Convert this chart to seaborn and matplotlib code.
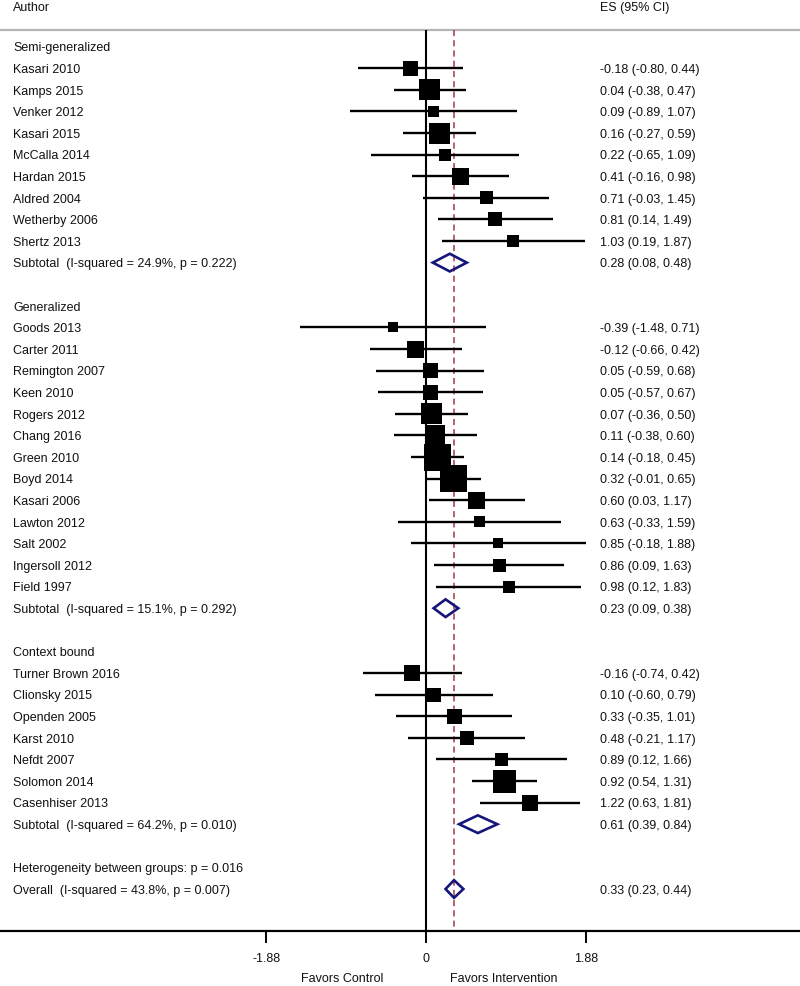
import matplotlib
matplotlib.use("Agg")
import matplotlib.pyplot as plt
from matplotlib.patches import Polygon
import seaborn as sns
import numpy as np
import pandas as pd

# ---------------- data ----------------
groups = ["Semi-generalized", "Generalized", "Context bound"]

semi_authors = ["Kasari 2010", "Kamps 2015", "Venker 2012", "Kasari 2015", "McCalla 2014",
                "Hardan 2015", "Aldred 2004", "Wetherby 2006", "Shertz 2013"]
semi_es = [-0.18, 0.04, 0.09, 0.16, 0.22, 0.41, 0.71, 0.81, 1.03]
semi_lo = [-0.80, -0.38, -0.89, -0.27, -0.65, -0.16, -0.03, 0.14, 0.19]
semi_hi = [0.44, 0.47, 1.07, 0.59, 1.09, 0.98, 1.45, 1.49, 1.87]
semi_wt = [15, 21, 11, 21, 12, 17, 13, 14, 12]

gen_authors = ["Goods 2013", "Carter 2011", "Remington 2007", "Keen 2010", "Rogers 2012",
               "Chang 2016", "Green 2010", "Boyd 2014", "Kasari 2006", "Lawton 2012",
               "Salt 2002", "Ingersoll 2012", "Field 1997"]
gen_es = [-0.39, -0.12, 0.05, 0.05, 0.07, 0.11, 0.14, 0.32, 0.60, 0.63, 0.85, 0.86, 0.98]
gen_lo = [-1.48, -0.66, -0.59, -0.57, -0.36, -0.38, -0.18, -0.01, 0.03, -0.33, -0.18, 0.09, 0.12]
gen_hi = [0.71, 0.42, 0.68, 0.67, 0.50, 0.60, 0.45, 0.65, 1.17, 1.59, 1.88, 1.63, 1.83]
gen_wt = [10, 17, 15, 15, 21, 20, 27, 27, 17, 11, 10, 13, 12]

ctx_authors = ["Turner Brown 2016", "Clionsky 2015", "Openden 2005", "Karst 2010",
               "Nefdt 2007", "Solomon 2014", "Casenhiser 2013"]
ctx_es = [-0.16, 0.10, 0.33, 0.48, 0.89, 0.92, 1.22]
ctx_lo = [-0.74, -0.60, -0.35, -0.21, 0.12, 0.54, 0.63]
ctx_hi = [0.42, 0.79, 1.01, 1.17, 1.66, 1.31, 1.81]
ctx_wt = [16, 14, 15, 14, 13, 23, 16]

sub_labels = ["Subtotal  (I-squared = 24.9%, p = 0.222)",
              "Subtotal  (I-squared = 15.1%, p = 0.292)",
              "Subtotal  (I-squared = 64.2%, p = 0.010)"]
sub_es = [0.28, 0.23, 0.61]
sub_lo = [0.08, 0.09, 0.39]
sub_hi = [0.48, 0.38, 0.84]

het_label = "Heterogeneity between groups: p = 0.016"
overall_label = "Overall  (I-squared = 43.8%, p = 0.007)"
overall_es, overall_lo, overall_hi = 0.33, 0.23, 0.44

tick_vals = [-1.88, 0, 1.88]
tick_labels = ["-1.88", "0", "1.88"]
left_label, right_label = "Favors Control", "Favors Intervention"

# ---------------- layout ----------------
sns.set_theme(style="white")
plt.rcParams["font.family"] = ["Liberation Sans", "DejaVu Sans"]
FS = 9

W, H = 800, 987
fig = plt.figure(figsize=(W / 100, H / 100), dpi=100)
axis_px = 932
ax = fig.add_axes([0, (H - axis_px) / H, 1, axis_px / H])

row0_px, row_h = 47.6, 21.6
def px2row(p):
    return (p - row0_px) / row_h

px_per_unit = 84.95
zero_px = 426
ax.set_xlim(-zero_px / px_per_unit, (W - zero_px) / px_per_unit)
ax.set_ylim(px2row(axis_px), px2row(0))

# Build table of rows
study_rows = []
sub_rows = []
header_rows = []
r = 0
for g, (au, es, lo, hi, wt) in zip(groups, [
        (semi_authors, semi_es, semi_lo, semi_hi, semi_wt),
        (gen_authors, gen_es, gen_lo, gen_hi, gen_wt),
        (ctx_authors, ctx_es, ctx_lo, ctx_hi, ctx_wt)]):
    header_rows.append((r, g))
    r += 1
    for a, e, l, h, w in zip(au, es, lo, hi, wt):
        study_rows.append(dict(row=r, author=a, es=e, lo=l, hi=h, wt=w))
        r += 1
    sub_rows.append(r)
    r += 2
het_row = r
overall_row = r + 1

df = pd.DataFrame(study_rows)

top_line = px2row(31)
bottom = px2row(axis_px)

# separator line under header
ax.axhline(top_line, color="#b4b4b4", lw=1.6, zorder=1)
# null line
ax.vlines(0, top_line, bottom, color="black", lw=1.5, zorder=2)
# overall effect dashed line
ax.vlines(overall_es, top_line, bottom, color="#a03a40", lw=1.1,
          linestyles=[(0, (4.0, 2.7))], zorder=2)

# CI lines
ax.hlines(df["row"], df["lo"], df["hi"], color="black", lw=1.7, zorder=3)

# weighted squares
sizes = (df["wt"].to_numpy() * 0.72) ** 2
sns.scatterplot(data=df, x="es", y="row", marker="s", color="black", s=sizes,
                linewidth=0, ax=ax, zorder=4, legend=False)

# diamonds
dh = 0.41
def diamond(y, e, l, h):
    poly = Polygon([(l, y), (e, y - dh), (h, y), (e, y + dh)], closed=True,
                   fill=False, edgecolor="#16167a", lw=1.9, zorder=5, joinstyle="miter")
    ax.add_patch(poly)

for y, e, l, h in zip(sub_rows, sub_es, sub_lo, sub_hi):
    diamond(y, e, l, h)
diamond(overall_row, overall_es, overall_lo, overall_hi)

# text
xt_left = 13 / W
xt_es = 600 / W
trans = ax.get_yaxis_transform()
TXT_OFF = 0.04
def txt(x, y, s):
    ax.text(x, y + TXT_OFF, s, transform=trans, ha="left", va="center", fontsize=FS,
            color="#111111")

def fmt(e, l, h):
    return f"{e:.2f} ({l:.2f}, {h:.2f})"

txt(xt_left, px2row(7), "Author")
txt(xt_es, px2row(7), "ES (95% CI)")
for rr, g in header_rows:
    txt(xt_left, rr, g)
for _, s in df.iterrows():
    txt(xt_left, s["row"], s["author"])
    txt(xt_es, s["row"], fmt(s["es"], s["lo"], s["hi"]))
for rr, lab, e, l, h in zip(sub_rows, sub_labels, sub_es, sub_lo, sub_hi):
    txt(xt_left, rr, lab)
    txt(xt_es, rr, fmt(e, l, h))
txt(xt_left, het_row, het_label)
txt(xt_left, overall_row, overall_label)
txt(xt_es, overall_row, fmt(overall_es, overall_lo, overall_hi))

# axis
for sp in ["left", "right", "top"]:
    ax.spines[sp].set_visible(False)
ax.spines["bottom"].set_color("black")
ax.spines["bottom"].set_linewidth(1.6)
ax.set_yticks([])
ax.set_xticks(tick_vals)
ax.set_xticklabels(tick_labels, fontsize=FS, color="#111111")
ax.tick_params(axis="x", direction="out", length=8.6, width=1.4, color="black", pad=6.5,
               bottom=True)
ax.set_xlabel("")
ax.set_ylabel("")
ax.grid(False)

blend = matplotlib.transforms.blended_transform_factory(ax.transData, fig.transFigure)
ax.text((342 - zero_px) / px_per_unit, 1 - 979.5 / H, left_label, transform=blend,
        ha="center", va="center", fontsize=FS, color="#111111")
ax.text((504 - zero_px) / px_per_unit, 1 - 979.5 / H, right_label, transform=blend,
        ha="center", va="center", fontsize=FS, color="#111111")

fig.savefig("out.png", dpi=100)
